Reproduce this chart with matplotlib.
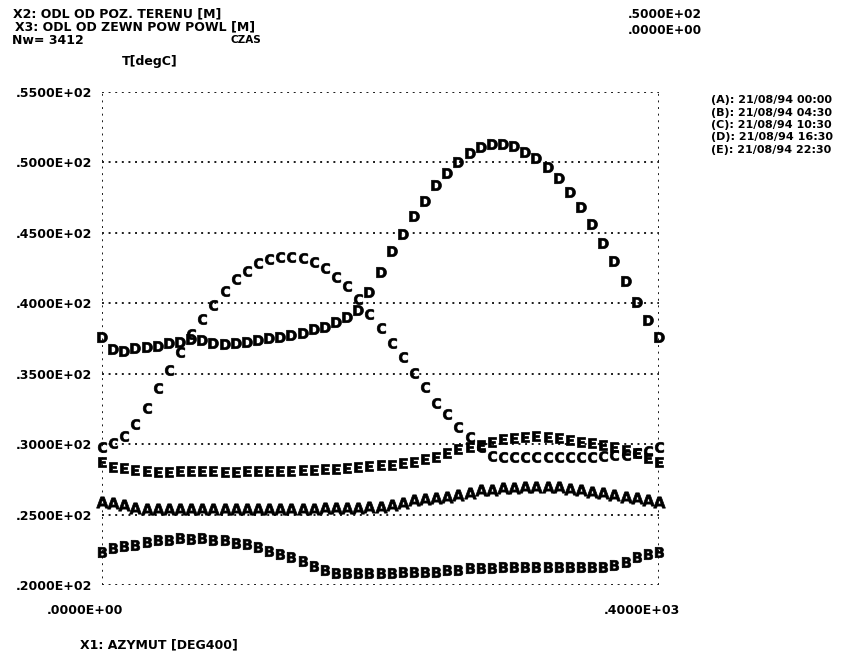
import matplotlib
matplotlib.use("Agg")
import matplotlib.pyplot as plt
from matplotlib.transforms import ScaledTranslation

# Azimuth grid [DEG400]
azimuth = list(range(0, 401, 8))

# Temperature profiles T[degC] for five times of day
temp_A = [25.92, 25.80, 25.69, 25.45, 25.38, 25.38, 25.38, 25.38, 25.38, 25.38,
          25.38, 25.38, 25.38, 25.38, 25.38, 25.38, 25.38, 25.38, 25.38, 25.40,
          25.45, 25.45, 25.48, 25.50, 25.52, 25.55, 25.69, 25.85, 26.00, 26.09,
          26.16, 26.28, 26.40, 26.52, 26.71, 26.75, 26.87, 26.87, 26.95, 26.95,
          26.95, 26.95, 26.80, 26.75, 26.63, 26.52, 26.40, 26.28, 26.16, 26.04,
          25.92]
temp_B = [22.37, 22.62, 22.78, 22.85, 23.08, 23.20, 23.20, 23.32, 23.25, 23.32,
          23.20, 23.16, 22.97, 22.92, 22.69, 22.44, 22.21, 22.02, 21.73, 21.36,
          21.03, 20.84, 20.84, 20.84, 20.84, 20.86, 20.88, 20.92, 20.92, 20.92,
          20.95, 21.07, 21.10, 21.19, 21.19, 21.20, 21.31, 21.31, 21.31, 21.31,
          21.31, 21.31, 21.31, 21.31, 21.31, 21.30, 21.43, 21.66, 22.02, 22.21,
          22.37]
temp_C = [29.83, 30.07, 30.60, 31.45, 32.55, 33.97, 35.27, 36.57, 37.80, 38.87,
          39.88, 40.90, 41.71, 42.32, 42.84, 43.15, 43.31, 43.31, 43.20, 42.96,
          42.49, 41.90, 41.23, 40.29, 39.24, 38.27, 37.20, 36.17, 35.08, 34.08,
          32.95, 32.15, 31.25, 30.54, 29.80, 29.15, 29.12, 29.12, 29.12, 29.12,
          29.12, 29.12, 29.12, 29.12, 29.12, 29.15, 29.20, 29.25, 29.35, 29.50,
          29.83]
temp_D = [37.59, 36.74, 36.62, 36.81, 36.88, 36.97, 37.16, 37.28, 37.45, 37.40,
          37.21, 37.12, 37.21, 37.28, 37.40, 37.56, 37.64, 37.75, 37.92, 38.16,
          38.34, 38.70, 39.05, 39.53, 40.83, 42.20, 43.72, 44.90, 46.20, 47.29,
          48.40, 49.27, 50.01, 50.65, 51.08, 51.31, 51.29, 51.17, 50.76, 50.29,
          49.70, 48.87, 47.92, 46.82, 45.61, 44.30, 43.00, 41.61, 40.12, 38.82,
          37.59]
temp_E = [28.76, 28.41, 28.29, 28.17, 28.07, 28.05, 28.05, 28.10, 28.10, 28.10,
          28.10, 28.05, 28.00, 28.10, 28.10, 28.10, 28.10, 28.10, 28.15, 28.15,
          28.20, 28.22, 28.28, 28.36, 28.42, 28.50, 28.55, 28.65, 28.76, 28.93,
          29.12, 29.36, 29.64, 29.83, 29.95, 30.18, 30.35, 30.42, 30.54, 30.59,
          30.54, 30.42, 30.30, 30.18, 30.11, 29.95, 29.83, 29.60, 29.36, 29.00,
          28.76]

series_letters = ["A", "B", "C", "D", "E"]
series_times = ["21/08/94 00:00", "21/08/94 04:30", "21/08/94 10:30",
                "21/08/94 16:30", "21/08/94 22:30"]

y_ticks = [20, 25, 30, 35, 40, 45, 50, 55]
y_tick_labels = [".2000E+02", ".2500E+02", ".3000E+02", ".3500E+02",
                 ".4000E+02", ".4500E+02", ".5000E+02", ".5500E+02"]
x_ticks = [0, 400]
x_tick_labels = [".0000E+00", ".4000E+03"]

plt.rcParams["font.family"] = ["DejaVu Sans"]
plt.rcParams["font.weight"] = "bold"

W, H = 841, 657
fig = plt.figure(figsize=(W / 100, H / 100), dpi=100)
fig.patch.set_facecolor("white")

ax = fig.add_axes([102 / W, 1 - 585 / H, (659 - 102) / W, (585 - 92) / H])
ax.set_xlim(0, 400)
ax.set_ylim(20, 55)

dot = dict(color="#1a1a1a", linestyle=(0, (1.0, 2.4)), linewidth=1.4)
for yv in y_ticks:
    ax.axhline(yv, zorder=1, **dot)
ax.axvline(0, zorder=1, **dot)
ax.axvline(400, zorder=1, **dot)
for sp in ax.spines.values():
    sp.set_visible(False)

all_series = [temp_A, temp_B, temp_C, temp_D, temp_E]
sizes = {"A": 8.5, "B": 7.5, "C": 7.5, "D": 7.5, "E": 7.5}
for letter, values in zip(series_letters, all_series):
    ax.plot(azimuth, values, linestyle="none",
            marker=r"$\mathbf{%s}$" % letter, markersize=sizes[letter],
            color="black", markeredgewidth=0.5, clip_on=False, zorder=3)

ax.set_yticks(y_ticks)
ax.set_yticklabels(y_tick_labels, fontsize=9, fontweight="bold")
ax.set_xticks(x_ticks)
ax.set_xticklabels(x_tick_labels, fontsize=9, fontweight="bold")
ax.tick_params(axis="y", length=0, pad=7)
ax.tick_params(axis="x", length=0, pad=14)
for lab in ax.get_xticklabels():
    lab.set_transform(lab.get_transform()
                      + ScaledTranslation(-12 / 72, 0, fig.dpi_scale_trans))


def put(x, y, s, **kw):
    fig.text(x / W, 1 - y / H, s, va="center", ha="left",
             fontsize=kw.pop("fontsize", 9), fontweight="bold", **kw)


put(13, 14, "X2: ODL OD POZ. TERENU [M]")
put(15, 27, "X3: ODL OD ZEWN POW POWL [M]")
put(12, 40, "Nw= 3412")
put(230, 40, "CZAS", fontsize=7.5)
put(122, 62, "T[degC]")
put(628, 14, ".5000E+02", fontsize=8.7)
put(628, 30, ".0000E+00", fontsize=8.7)
for i, (letter, t) in enumerate(zip(series_letters, series_times)):
    put(711, 100 + 12.5 * i, "(%s): %s" % (letter, t), fontsize=8)
put(80, 645, "X1: AZYMUT [DEG400]")

fig.savefig("out.png", dpi=100, facecolor="white")
